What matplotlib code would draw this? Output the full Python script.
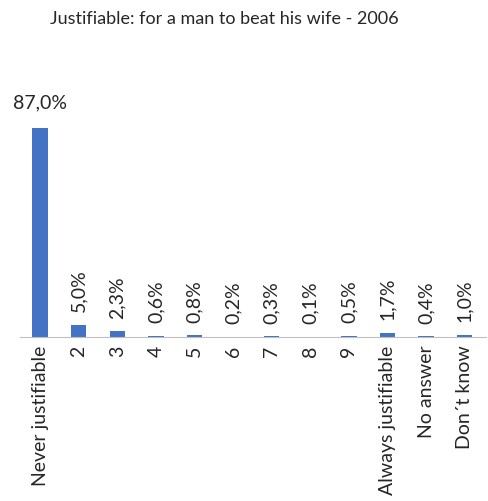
import matplotlib.pyplot as plt

categories = ['Never justifiable', '2', '3', '4', '5', '6', '7', '8', '9',
              'Always justifiable', 'No answer', 'Don´t know']
values = [87.0, 5.0, 2.3, 0.6, 0.8, 0.2, 0.3, 0.1, 0.5, 1.7, 0.4, 1.0]
title = 'Justifiable: for a man to beat his wife - 2006'

plt.rcParams['font.family'] = ['Lato', 'DejaVu Sans']

fig = plt.figure(figsize=(4.89, 5.01), dpi=100)
ax = fig.add_axes([20 / 489, 164 / 501, 466 / 489, 240 / 501])

x = range(len(categories))
ax.bar(x, values, width=0.4, color='#4472C4')
ax.set_xlim(-0.52, 11.55)
ax.set_ylim(0, 100)

for i, v in enumerate(values):
    lab = f'{v:.1f}%'.replace('.', ',')
    if i == 0:
        ax.annotate(lab, (i, v), xytext=(0, 12), textcoords='offset points',
                    ha='center', va='bottom', fontsize=14, color='#262626')
    else:
        ax.annotate(lab, (i, v), xytext=(0, 9), textcoords='offset points',
                    ha='center', va='bottom', rotation=90, fontsize=14,
                    color='#262626')

ax.set_xticks(list(x))
ax.set_xticklabels(categories, rotation=90, fontsize=14, color='#262626')
ax.tick_params(axis='x', length=0, pad=6)
ax.set_yticks([])
for s in ['top', 'right', 'left']:
    ax.spines[s].set_visible(False)
ax.spines['bottom'].set_color('#bfbfbf')

fig.text(224 / 489, 1 - 19 / 501, title, ha='center', va='center',
         fontsize=13, color='#262626')

fig.savefig('out.png', dpi=100)
